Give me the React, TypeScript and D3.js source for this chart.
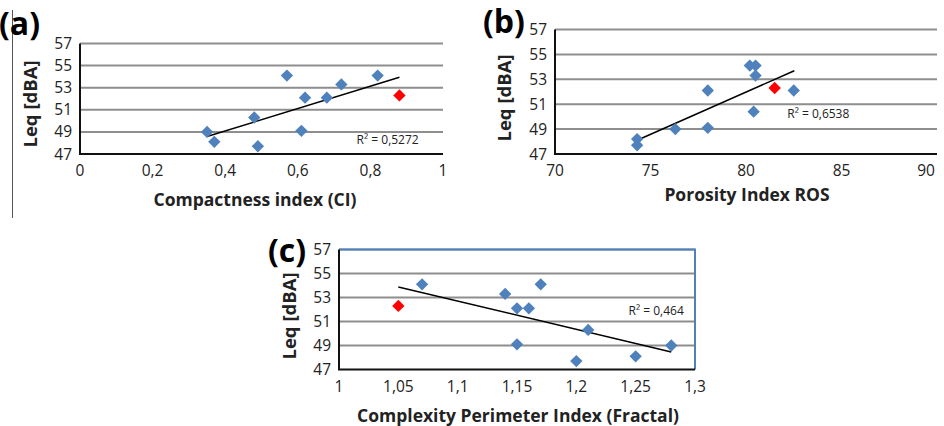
import React, { useEffect, useRef } from "react";
import * as d3 from "d3";

// Leq values (dBA) per site, read against each index
const ciValues = [0.35, 0.37, 0.48, 0.49, 0.57, 0.61, 0.62, 0.68, 0.72, 0.82];
const ciLeq = [49.0, 48.1, 50.3, 47.7, 54.1, 49.1, 52.1, 52.1, 53.3, 54.1];
const ciRed = [0.88, 52.3];
const ciTrend = [[0.35, 48.58], [0.88, 53.94]];

const rosValues = [74.3, 74.3, 76.3, 78.0, 78.0, 80.2, 80.5, 80.5, 80.4, 82.5];
const rosLeq = [48.2, 47.7, 49.0, 49.1, 52.1, 54.1, 54.1, 53.3, 50.4, 52.1];
const rosRed = [81.5, 52.3];
const rosTrend = [[74.33, 48.12], [82.53, 53.69]];

const cpiValues = [1.07, 1.14, 1.15, 1.16, 1.17, 1.15, 1.2, 1.21, 1.25, 1.28];
const cpiLeq = [54.1, 53.3, 52.1, 52.1, 54.1, 49.1, 47.7, 50.3, 48.1, 49.0];
const cpiRed = [1.05, 52.3];
const cpiTrend = [[1.05, 53.88], [1.28, 48.46]];

const yTicks = [47, 49, 51, 53, 55, 57];
const ciTicks = [0, 0.2, 0.4, 0.6, 0.8, 1];
const rosTicks = [70, 75, 80, 85, 90];
const cpiTicks = [1, 1.05, 1.1, 1.15, 1.2, 1.25, 1.3];

const W = 944;
const H = 426;

const panels = [
  {
    tag: "(a)", title: "Compactness index (CI)", r2: "R² = 0,5272",
    xs: ciValues, ys: ciLeq, red: ciRed, trend: ciTrend, xTicks: ciTicks, xDomain: [0, 1],
    box: { left: 80, right: 443, top: 43.5, bottom: 154 },
    r2At: [0.762, 48.3], tagAt: [-1, 35], titleAt: [255, 206], leqAt: [31, 104], frame: false,
  },
  {
    tag: "(b)", title: "Porosity Index ROS", r2: "R² = 0,6538",
    xs: rosValues, ys: rosLeq, red: rosRed, trend: rosTrend, xTicks: rosTicks, xDomain: [70, 90],
    box: { left: 555, right: 937, top: 29.5, bottom: 154 },
    r2At: [82.16, 50.2], tagAt: [483, 33], titleAt: [747, 201], leqAt: [505, 98], frame: false,
  },
  {
    tag: "(c)", title: "Complexity Perimeter Index (Fractal)", r2: "R² = 0,464",
    xs: cpiValues, ys: cpiLeq, red: cpiRed, trend: cpiTrend, xTicks: cpiTicks, xDomain: [1, 1.3],
    box: { left: 339, right: 695, top: 249.5, bottom: 369.5 },
    r2At: [1.244, 51.9], tagAt: [268, 262], titleAt: [518, 422], leqAt: [290, 316], frame: true,
  },
];

const fmt = (v: number) => String(+v.toFixed(2)).replace(".", ",");

const App = () => {
  const ref = useRef<SVGSVGElement>(null);

  useEffect(() => {
    const svg = d3.select(ref.current);
    svg.selectAll("*").remove();

    // thin rule at the left edge of the page
    svg.append("line").attr("x1", 12.5).attr("x2", 12.5).attr("y1", 10).attr("y2", 218)
      .attr("stroke", "#555").attr("stroke-width", 1);

    panels.forEach((p) => {
      const g = svg.append("g");
      const x = d3.scaleLinear().domain(p.xDomain).range([p.box.left, p.box.right]);
      const y = d3.scaleLinear().domain([47, 57]).range([p.box.bottom, p.box.top]);

      // gridlines
      g.selectAll(".grid").data(yTicks.slice(1)).enter().append("line")
        .attr("x1", p.box.left).attr("x2", p.box.right)
        .attr("y1", (d) => y(d)).attr("y2", (d) => y(d))
        .attr("stroke", "#8e8e8e").attr("stroke-width", 2);

      if (p.frame) {
        g.append("path")
          .attr("d", `M${p.box.left},${p.box.top}H${p.box.right}V${p.box.bottom}`)
          .attr("fill", "none").attr("stroke", "#4f81bd").attr("stroke-width", 2);
      }

      // axes
      g.append("path")
        .attr("d", `M${p.box.left},${p.box.top}V${p.box.bottom}H${p.box.right}`)
        .attr("fill", "none").attr("stroke", "#111").attr("stroke-width", 2);

      g.selectAll(".yt").data(yTicks).enter().append("text")
        .attr("x", p.box.left - 8).attr("y", (d) => y(d)).attr("dy", "0.36em")
        .attr("text-anchor", "end").attr("font-size", 15.5).attr("fill", "#222")
        .text((d) => d);

      // x tick labels; the last one is kept inside the page edge
      g.selectAll(".xt").data(p.xTicks).enter().append("text")
        .attr("x", (d) => Math.min(x(d), W - 18))
        .attr("y", p.box.bottom + 22)
        .attr("text-anchor", "middle").attr("font-size", 15.5).attr("fill", "#222")
        .text((d) => fmt(d));

      // trend line
      g.append("line")
        .attr("x1", x(p.trend[0][0])).attr("y1", y(p.trend[0][1]))
        .attr("x2", x(p.trend[1][0])).attr("y2", y(p.trend[1][1]))
        .attr("stroke", "#000").attr("stroke-width", 1.5);

      const diamond = d3.symbol(d3.symbolSquare, 76);
      const pts = p.xs.map((v, i) => [v, p.ys[i]]);
      g.selectAll(".pt").data(pts).enter().append("path")
        .attr("d", diamond)
        .attr("transform", (d) => `translate(${x(d[0])},${y(d[1])}) rotate(45)`)
        .attr("fill", "#4f81bd");
      g.append("path").attr("d", diamond)
        .attr("transform", `translate(${x(p.red[0])},${y(p.red[1])}) rotate(45)`)
        .attr("fill", "#ff0000");

      g.append("text")
        .attr("x", x(p.r2At[0])).attr("y", y(p.r2At[1])).attr("dy", "0.35em")
        .attr("font-size", 12).attr("fill", "#222").text(p.r2);

      g.append("text")
        .attr("x", p.titleAt[0]).attr("y", p.titleAt[1])
        .attr("text-anchor", "middle").attr("font-size", 17.5).attr("font-weight", "bold")
        .attr("fill", "#222").text(p.title);

      g.append("text")
        .attr("transform", `translate(${p.leqAt[0]},${p.leqAt[1]}) rotate(-90)`)
        .attr("text-anchor", "middle").attr("dy", "0.35em")
        .attr("font-size", 18.5).attr("font-weight", "bold").attr("fill", "#222")
        .text("Leq [dBA]");

      g.append("text")
        .attr("x", p.tagAt[0]).attr("y", p.tagAt[1])
        .attr("font-size", 32).attr("font-weight", "bold").attr("fill", "#000")
        .text(p.tag);
    });
  }, []);

  return (
    <svg
      ref={ref}
      width={W}
      height={H}
      style={{ position: "absolute", left: 0, top: 0, background: "#fff", fontFamily: "'Open Sans', sans-serif" }}
    />
  );
};

export default App;
